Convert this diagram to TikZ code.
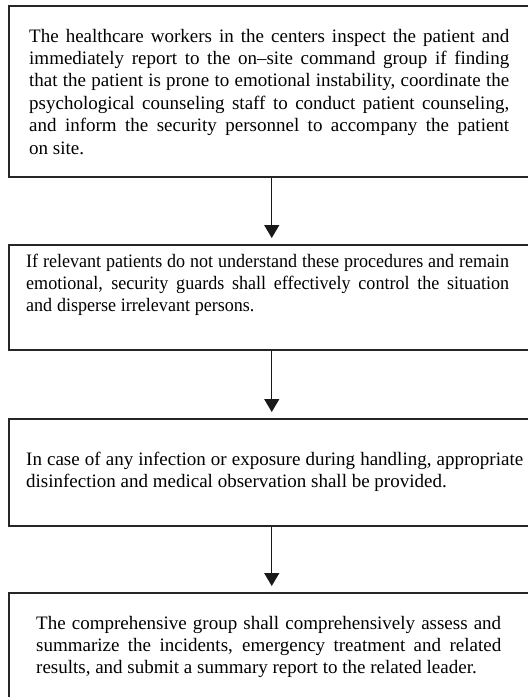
\documentclass[tikz,border=0pt]{standalone}
\usepackage{fontspec}
\setmainfont{Liberation Serif}
\newfontfamily\narrowserif[FakeStretch=0.95]{Liberation Serif}
\usetikzlibrary{arrows.meta}

\newcommand{\stagefont}{\fontsize{19}{22.4}\selectfont
  \spaceskip=0.25em plus 0.4em minus 0.12em\relax
  \hyphenpenalty=10000\relax}

\tikzset{
  stagebox/.style={draw=black!85, line width=1.5pt, inner sep=0pt,
    minimum width=526pt, anchor=north west},
  stagetext/.style={inner sep=0pt, anchor=north west, align=justify,
    font=\stagefont},
  flowarrow/.style={draw=black!90, line width=1.3pt,
    -{Triangle[width=15pt,length=13pt]}}
}

\begin{document}
\begin{tikzpicture}[x=1pt, y=-1pt]
  \path[use as bounding box, fill=white] (0,0) rectangle (528,697);
  \clip (0,0) rectangle (528,697);

  % frames of the four stages
  \node[stagebox, minimum height=171pt] (b1) at (8,5) {};
  \node[stagebox, minimum height=105pt] (b2) at (8,244) {};
  \node[stagebox, minimum height=107pt] (b3) at (8,418) {};
  \node[stagebox, minimum height=140pt] (b4) at (8,592) {};

  % stage texts (anchored so the first baseline sits where wanted)
  \node[stagetext, text width=480pt] (t1) at (29,26.3) {\strut The healthcare workers in the centers inspect the patient and\linebreak
    immediately report to the on–site command group if finding\linebreak
    that the patient is prone to emotional instability, coordinate the\linebreak
    psychological counseling staff to conduct patient counseling,\linebreak
    and inform the security personnel to accompany the patient\linebreak
    on site.};

  \node[stagetext, text width=483pt, font=\stagefont\narrowserif] (t2) at (26,251.3) {\strut If relevant patients do not understand these procedures and remain\linebreak
    emotional, security guards shall effectively control the situation\linebreak
    and disperse irrelevant persons.};

  \node[stagetext, text width=497pt] (t3) at (26,449.3) {\strut In case of any infection or exposure during handling, appropriate\linebreak
    disinfection and medical observation shall be provided.};

  \node[stagetext, text width=465pt] (t4) at (36,613.3) {\strut The comprehensive group shall comprehensively assess and\linebreak
    summarize the incidents, emergency treatment and related\linebreak
    results, and submit a summary report to the related leader.};

  % connectors between the stages
  \draw[flowarrow] (b1.south) -- ([yshift=6pt]b2.north);
  \draw[flowarrow] (b2.south) -- ([yshift=6pt]b3.north);
  \draw[flowarrow] (b3.south) -- ([yshift=6pt]b4.north);
\end{tikzpicture}
\end{document}
